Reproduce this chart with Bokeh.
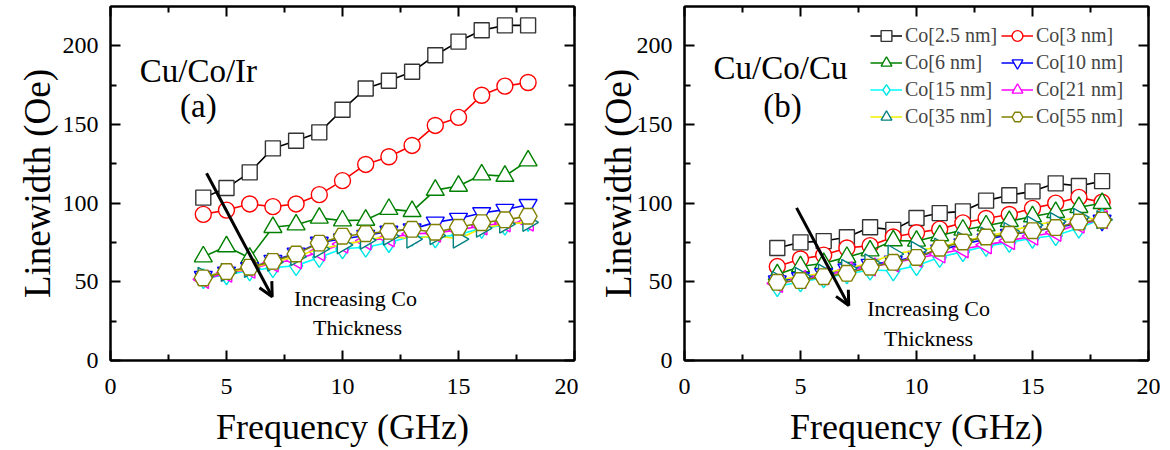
import math
from bokeh.plotting import figure
from bokeh.layouts import row
from bokeh.models import (FixedTicker, LinearAxis, Range1d, Legend, LegendItem,
                          Arrow, OpenHead)
from bokeh.core.properties import value
from bokeh.embed import file_html
from bokeh.resources import INLINE

# ---------------- data ----------------
freq = [4, 5, 6, 7, 8, 9, 10, 11, 12, 13, 14, 15, 16, 17, 18]
labels = ["Co[2.5 nm]", "Co[3 nm]", "Co[6 nm]", "Co[10 nm]",
          "Co[15 nm]", "Co[21 nm]", "Co[35 nm]", "Co[55 nm]"]

# panel (a) Cu/Co/Ir
ir_2_5 = [103.5, 109.6, 119.6, 134.8, 139.7, 145.0, 159.4, 172.9, 177.8, 183.5, 194.0, 202.7, 209.9, 213.0, 213.0]
ir_3 = [92.9, 95.6, 99.5, 97.8, 99.5, 105.4, 114.3, 124.6, 129.5, 136.7, 149.4, 154.5, 168.6, 174.4, 176.7]
ir_6 = [66.0, 72.4, 65.2, 84.7, 86.3, 90.6, 88.9, 89.3, 96.2, 94.8, 108.3, 110.9, 118.1, 117.2, 127.0]
ir_10 = [53.3, 56.0, 58.8, 63.5, 68.1, 75.0, 77.2, 79.4, 82.0, 83.5, 87.8, 90.2, 93.8, 95.9, 99.0]
ir_15 = [52.0, 54.5, 57.0, 59.0, 60.3, 65.5, 71.0, 72.0, 75.0, 79.0, 78.0, 80.0, 84.0, 86.0, 88.5]
ir_21 = [51.5, 55.5, 58.0, 62.0, 64.0, 69.0, 74.0, 76.0, 78.0, 80.5, 81.0, 83.0, 85.5, 87.5, 88.0]
ir_35 = [53.5, 56.0, 58.5, 62.5, 66.0, 71.0, 73.5, 76.5, 79.0, 77.2, 79.4, 77.2, 84.1, 86.7, 87.8]
ir_55 = [52.5, 56.5, 59.3, 63.0, 67.7, 74.6, 79.0, 80.6, 82.1, 83.4, 81.5, 84.7, 87.6, 89.4, 91.7]

# panel (b) Cu/Co/Cu
cu_2_5 = [71.5, 75.1, 75.9, 78.3, 84.7, 83.0, 90.6, 93.7, 94.8, 101.6, 105.0, 107.5, 112.6, 110.9, 114.0]
cu_3 = [59.7, 64.5, 67.0, 71.5, 73.0, 78.5, 81.2, 83.5, 87.5, 90.3, 92.8, 96.7, 100.0, 103.7, 100.6]
cu_6 = [54.6, 59.7, 61.8, 65.7, 69.8, 76.2, 76.0, 79.4, 83.0, 85.7, 88.5, 91.5, 94.2, 97.4, 99.9]
cu_10 = [50.5, 52.5, 55.0, 58.0, 61.0, 63.0, 66.0, 70.0, 74.0, 77.0, 80.0, 82.0, 84.5, 87.0, 89.0]
cu_15 = [47.0, 50.0, 52.5, 55.0, 57.5, 57.0, 60.3, 65.6, 69.2, 72.6, 75.1, 77.7, 79.4, 84.2, 90.0]
cu_21 = [49.0, 51.5, 54.0, 57.0, 59.5, 62.0, 65.0, 67.7, 70.9, 73.5, 76.2, 79.0, 81.5, 86.7, 89.5]
cu_35 = [51.0, 53.5, 55.5, 58.5, 62.0, 67.7, 70.0, 72.0, 76.0, 79.0, 82.0, 86.0, 88.3, 91.0, 89.5]
cu_55 = [49.7, 50.8, 53.3, 55.4, 59.3, 62.4, 65.5, 71.4, 75.3, 78.5, 80.2, 82.5, 84.5, 88.0, 89.2]

x_ticks = [0, 5, 10, 15, 20]
x_minor = [2.5, 7.5, 12.5, 17.5]
y_ticks = [0, 50, 100, 150, 200]
y_minor = [25, 75, 125, 175]

# ---------------- styles ----------------
FONT = "Liberation Serif"
# (marker, line colour, marker colour, angle, size)
styles = [
    ("square", "#000000", "#333333", 0.0, 15),
    ("circle", "#FF0000", "#FF0000", 0.0, 16),
    ("triangle", "#008000", "#008000", 0.0, 18),
    ("inverted_triangle", "#0000FF", "#0000FF", 0.0, 18),
    ("diamond", "#00FFFF", "#00E5E5", 0.0, 20),
    ("triangle", "#FF00FF", "#FF00FF", math.pi / 2, 18),
    ("triangle", "#F0F000", "#008080", -math.pi / 2, 18),
    ("hex", "#808000", "#808000", 0.0, 18),
]


def style_axis(ax, show_labels):
    ax.axis_line_width = 2
    ax.axis_line_color = "black"
    ax.major_tick_in = 10
    ax.major_tick_out = 0
    ax.minor_tick_in = 6
    ax.minor_tick_out = 0
    ax.major_tick_line_width = 2
    ax.minor_tick_line_width = 2
    ax.major_tick_line_color = "black"
    ax.minor_tick_line_color = "black"
    if show_labels:
        ax.major_label_text_font = FONT
        ax.major_label_text_font_size = "24px"
        ax.major_label_text_color = "black"
        ax.axis_label_text_font = FONT
        ax.axis_label_text_font_style = "normal"
        ax.axis_label_text_color = "black"
    else:
        ax.major_label_text_font_size = "0px"
        ax.major_label_standoff = 0
        ax.major_label_text_alpha = 0


def make_panel(series, title, tag, arrow_pts, txt_pos, width, left_border, right_border, ylab_standoff):
    p = figure(width=width, height=450, x_range=Range1d(0, 20), y_range=Range1d(0, 225),
               output_backend="svg", toolbar_location=None,
               min_border_left=left_border, min_border_right=right_border,
               min_border_top=6, min_border_bottom=90)
    p.grid.visible = False
    p.outline_line_color = "black"
    p.outline_line_width = 2
    p.background_fill_color = "white"

    p.xaxis[0].ticker = FixedTicker(ticks=x_ticks, minor_ticks=x_minor)
    p.yaxis[0].ticker = FixedTicker(ticks=y_ticks, minor_ticks=y_minor)
    p.xaxis[0].axis_label = "Frequency (GHz)"
    p.yaxis[0].axis_label = "Linewidth (Oe)"
    style_axis(p.xaxis[0], True)
    style_axis(p.yaxis[0], True)
    p.xaxis[0].axis_label_text_font_size = "36px"
    p.xaxis[0].axis_label_text_line_height = 1.0
    p.yaxis[0].axis_label_text_font_size = "37px"
    p.xaxis[0].major_label_standoff = 18
    p.xaxis[0].axis_label_standoff = 10
    p.yaxis[0].major_label_standoff = 12
    p.yaxis[0].axis_label_standoff = ylab_standoff

    top = LinearAxis(ticker=FixedTicker(ticks=x_ticks, minor_ticks=x_minor))
    style_axis(top, False)
    p.add_layout(top, "above")
    right = LinearAxis(ticker=FixedTicker(ticks=y_ticks, minor_ticks=y_minor))
    style_axis(right, False)
    p.add_layout(right, "right")

    rends = []
    for vals, (mk, lc, mc, ang, sz) in zip(series, styles):
        lr = p.line(freq, vals, line_color=lc, line_width=1.6)
        sr = p.scatter(freq, vals, marker=mk, size=sz, angle=ang, fill_color="white",
                       line_color=mc, line_width=1.4)
        rends.append((lr, sr))

    # panel texts
    p.text(x=[txt_pos[0][0]], y=[txt_pos[0][1]], text=[title], text_font=value(FONT),
           text_font_size="33px", text_align="center", text_baseline="alphabetic",
           text_color="black")
    p.text(x=[txt_pos[1][0]], y=[txt_pos[1][1]], text=[tag], text_font=value(FONT),
           text_font_size="33px", text_align="center", text_baseline="alphabetic",
           text_color="black")
    p.text(x=[txt_pos[2][0], txt_pos[3][0]], y=[txt_pos[2][1], txt_pos[3][1]],
           text=["Increasing Co", "Thickness"], text_font=value(FONT),
           text_font_size="22px", text_align="center", text_baseline="alphabetic",
           text_color="black")
    p.add_layout(Arrow(end=OpenHead(size=14, line_width=3, line_color="black"),
                       x_start=arrow_pts[0], y_start=arrow_pts[1],
                       x_end=arrow_pts[2], y_end=arrow_pts[3],
                       line_width=3, line_color="black"))
    return p, rends


p1, r1 = make_panel([ir_2_5, ir_3, ir_6, ir_10, ir_15, ir_21, ir_35, ir_55],
                    "Cu/Co/Ir", "(a)", (4.14, 119.0, 6.97, 40.5),
                    [(3.79, 184.0), (3.79, 162.0), (10.56, 39.4), (10.65, 21.0)],
                    578, 110, 4, 2)
p2, r2 = make_panel([cu_2_5, cu_3, cu_6, cu_10, cu_15, cu_21, cu_35, cu_55],
                    "Cu/Co/Cu", "(b)", (4.83, 97.0, 7.08, 35.0),
                    [(4.14, 186.0), (4.22, 162.0), (10.52, 33.0), (10.52, 14.0)],
                    582, 106, 12, -5)

# legend is filled column by column: first column 2.5/6/15/35, second 3/10/21/55
order = [0, 2, 4, 6, 1, 3, 5, 7]
items = [LegendItem(label=labels[i], renderers=list(r2[i])) for i in order]
legend = Legend(items=items, ncols=2, location="top_right",
                label_text_font=FONT, label_text_font_size="20px",
                background_fill_alpha=0, border_line_alpha=0,
                glyph_width=32, glyph_height=27, label_height=20, label_width=96,
                spacing=0, padding=0, margin=16, label_standoff=3)
p2.add_layout(legend)

layout = row(p1, p2)
open("out.html", "w").write(file_html(layout, INLINE))
